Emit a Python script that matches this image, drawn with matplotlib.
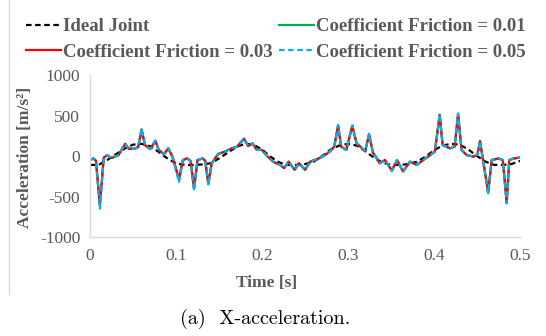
import matplotlib.pyplot as plt
from matplotlib.lines import Line2D

# ideal joint (smooth reference curve)
t_ideal = [0.00, 0.01, 0.02, 0.03, 0.04, 0.05, 0.06, 0.07, 0.08, 0.09,
           0.10, 0.11, 0.12, 0.13, 0.14, 0.15, 0.16, 0.17, 0.18, 0.19,
           0.20, 0.21, 0.22, 0.23, 0.24, 0.25, 0.26, 0.27, 0.28, 0.29,
           0.30, 0.31, 0.32, 0.33, 0.34, 0.35, 0.36, 0.37, 0.38, 0.39,
           0.40, 0.41, 0.42, 0.43, 0.44, 0.45, 0.46, 0.47, 0.48, 0.49, 0.50]
a_ideal = [-110, -110, -50, 20, 90, 140, 150, 120, 50, -30,
           -90, -110, -110, -105, -90, -30, 40, 110, 150, 140,
           80, -10, -80, -110, -110, -100, -70, 0, 80, 130,
           150, 130, 60, -20, -80, -110, -110, -100, -70, -10,
           70, 130, 150, 140, 80, 0, -70, -110, -110, -100, -60]

# joints with clearance and friction
t_fric = [0.000, 0.004, 0.007, 0.0115, 0.016, 0.020, 0.025, 0.033, 0.041, 0.045,
          0.052, 0.056, 0.060, 0.064, 0.070, 0.076, 0.080, 0.086, 0.091, 0.096,
          0.1035, 0.108, 0.113, 0.117, 0.121, 0.125, 0.131, 0.134, 0.1376, 0.1415,
          0.149, 0.157, 0.165, 0.171, 0.175, 0.179, 0.184, 0.189, 0.194, 0.200,
          0.205, 0.213, 0.221, 0.2256, 0.231, 0.238, 0.243, 0.250, 0.256, 0.266,
          0.273, 0.279, 0.284, 0.2885, 0.292, 0.298, 0.305, 0.310, 0.316, 0.320,
          0.3245, 0.329, 0.333, 0.337, 0.343, 0.351, 0.357, 0.364, 0.372, 0.380,
          0.3875, 0.393, 0.401, 0.4066, 0.410, 0.4186, 0.424, 0.428, 0.432, 0.438,
          0.446, 0.4505, 0.4535, 0.457, 0.463, 0.467, 0.475, 0.480, 0.4845, 0.4875,
          0.493, 0.500]
a_f001 = [-50, -30, -60, -620, -20, 10, -25, 10, 150, 90,
          90, 110, 330, 135, 85, 190, 75, 20, 95, -10,
          -300, -50, -30, -60, -410, -50, -30, -60, -350, -90,
          25, 55, 95, 115, 165, 215, 123, 156, 75, 75,
          10, -70, -110, -150, -70, -170, -90, -170, -70, -30,
          10, 55, 115, 380, 115, 75, 375, 156, 100, 60,
          270, 40, -20, -90, -50, -180, -50, -190, -70, -110,
          -50, -8, 55, 510, 136, 95, 115, 520, 75, 12,
          -8, 20, 185, -50, -455, -50, -30, -50, -580, -50,
          -30, -20]
a_f003 = [-50, -30, -60, -600, -20, 10, -25, 10, 150, 90,
          90, 110, 320, 135, 85, 185, 75, 20, 95, -10,
          -280, -50, -30, -60, -400, -50, -30, -60, -340, -90,
          25, 55, 95, 115, 165, 210, 123, 156, 75, 75,
          10, -70, -110, -150, -70, -170, -90, -170, -70, -30,
          10, 55, 115, 375, 115, 75, 370, 156, 100, 60,
          265, 40, -20, -90, -50, -180, -50, -190, -70, -110,
          -50, -8, 55, 505, 136, 95, 115, 520, 75, 12,
          -8, 20, 180, -50, -450, -50, -30, -50, -570, -50,
          -30, -20]
a_f005 = [-50, -30, -60, -650, -20, 10, -25, 10, 150, 90,
          90, 110, 340, 135, 85, 190, 75, 20, 95, -10,
          -320, -50, -30, -60, -420, -50, -30, -60, -360, -90,
          25, 55, 95, 115, 165, 218, 123, 156, 75, 75,
          10, -70, -110, -152, -70, -173, -90, -173, -70, -30,
          10, 55, 115, 385, 115, 75, 380, 156, 100, 60,
          275, 40, -20, -90, -50, -185, -50, -195, -70, -110,
          -50, -8, 55, 515, 136, 95, 115, 525, 75, 12,
          -8, 20, 185, -50, -460, -50, -30, -50, -585, -50,
          -30, -20]

xticks = [0, 0.1, 0.2, 0.3, 0.4, 0.5]
xticklabels = ["0", "0.1", "0.2", "0.3", "0.4", "0.5"]
yticks = [-1000, -500, 0, 500, 1000]

gray = "#595959"
serif = ["Liberation Serif", "DejaVu Serif"]

fig = plt.figure(figsize=(5.46, 3.36), dpi=100)
ax = fig.add_axes([0.1648, 0.2946, 0.7876, 0.4822])

h_ideal, = ax.plot(t_ideal, a_ideal, color="black", lw=1.6, dashes=(2.5, 1.6),
                   label="Ideal Joint")
h1, = ax.plot(t_fric, a_f001, color="#00B050", lw=1.6, label="Coefficient Friction = 0.01")
h3, = ax.plot(t_fric, a_f003, color="#FF0000", lw=1.6, label="Coefficient Friction = 0.03")
h5, = ax.plot(t_fric, a_f005, color="#00B0F0", lw=1.6, dashes=(2.5, 1.6),
              label="Coefficient Friction = 0.05")

ax.set_xlim(0, 0.5)
ax.set_ylim(-1000, 1000)
ax.set_xticks(xticks)
ax.set_xticklabels(xticklabels)
ax.set_yticks(yticks)
ax.set_yticklabels([str(v) for v in yticks])
for lab in ax.get_xticklabels() + ax.get_yticklabels():
    lab.set_family(serif)
    lab.set_fontsize(12.5)
    lab.set_color(gray)
ax.tick_params(axis="both", length=0)
ax.tick_params(axis="x", pad=8)
ax.tick_params(axis="y", pad=7)

for s in ["top", "right"]:
    ax.spines[s].set_visible(False)
for s in ["left", "bottom"]:
    ax.spines[s].set_color("#D9D9D9")
    ax.spines[s].set_linewidth(1.0)

ax.set_xlabel("Time [s]", family=serif, fontweight="bold", fontsize=12.5, color=gray,
              va="center", ha="center")
ax.xaxis.set_label_coords(0.41, -46 / 162)
ax.set_ylabel("Acceleration [m/s²]", family=serif, fontweight="bold", fontsize=12.5, color=gray,
              va="center", ha="center")
ax.yaxis.set_label_coords(-65 / 430, 0.49)

# legend filled column-wise: Ideal / 0.03 in the first column, 0.01 / 0.05 in the second
leg = fig.legend([h_ideal, h3, h1, h5],
                 [h_ideal.get_label(), h3.get_label(), h1.get_label(), h5.get_label()],
                 loc="upper center", bbox_to_anchor=(0.505, 0.985), ncol=2,
                 frameon=False, prop={"family": serif, "weight": "bold", "size": 13.5},
                 handlelength=1.9, handletextpad=0.1, columnspacing=0.3,
                 labelspacing=0.45, borderaxespad=0.3)
for txt in leg.get_texts():
    txt.set_color(gray)

# left edge of the chart frame
fig.add_artist(Line2D([9 / 546, 9 / 546], [1.0, 1 - 294 / 336], transform=fig.transFigure,
                      color="#D9D9D9", lw=1.0))

fig.text(0.485, 1 - 319 / 336, "(a)  X-acceleration.", family=["cmr10", "DejaVu Serif"],
         fontsize=14.5, ha="center", va="center", color="black")

fig.savefig("out.png", dpi=100)
